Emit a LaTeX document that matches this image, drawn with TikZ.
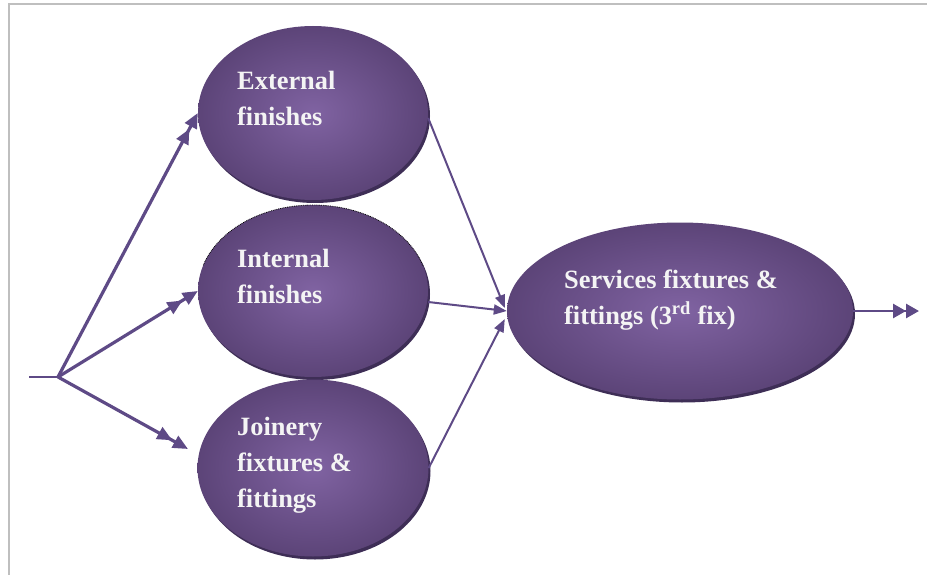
\documentclass[tikz,border=0pt]{standalone}
\usepackage{fontspec}
\setmainfont{Liberation Serif}
\usetikzlibrary{arrows.meta,shadows,shapes.geometric,calc}
\definecolor{arrcol}{HTML}{5E4A86}
\definecolor{ellin}{HTML}{8063A2}
\definecolor{ellout}{HTML}{5C4478}
\definecolor{shadcol}{HTML}{3E2E56}
\definecolor{framecol}{HTML}{BFBFBF}
\definecolor{txtcol}{HTML}{F4F4F4}
\begin{document}
\begin{tikzpicture}[x=1pt,y=-1pt,
  ell/.style={ellipse, shading=radial, inner color=ellin, outer color=ellout,
    draw=none, inner sep=0pt,
    drop shadow={shadow xshift=2pt, shadow yshift=-3pt, fill=shadcol, opacity=1}},
  lbl/.style={font=\bfseries\fontsize{26.4}{36}\selectfont, text=txtcol,
    align=left, anchor=base west, inner sep=0pt},
  plainline/.style={draw=arrcol, line width=2pt},
  leftarr/.style={draw=arrcol, line width=3.2pt,
    -{Triangle[length=15pt,width=13pt,sep=3pt]Triangle[length=15pt,width=13pt]}},
  inarr/.style={draw=arrcol, line width=2pt, -{Triangle[length=13pt,width=10pt]}},
  outarr/.style={draw=arrcol, line width=2.7pt,
    -{Triangle[length=13pt,width=14pt]Triangle[length=13pt,width=14pt]}}]
\useasboundingbox (0,0) rectangle (927,575);
\fill[white] (0,0) rectangle (927,575);
% frame
\draw[framecol, line width=1.7pt] (927,4.2) -- (8.8,4.2) -- (8.8,575);
% ellipses
\node[ell, minimum width=230, minimum height=174] (ext) at (313,113) {};
\node[ell, minimum width=230, minimum height=172] (int) at (313,291) {};
\node[ell, minimum width=231, minimum height=177] (jn) at (313,468) {};
\node[ell, minimum width=346, minimum height=177] (svc) at (680,311) {};
% dotted edge on internal finishes
\begin{scope}
\clip (185,195) rectangle (445,265);
\draw[black, densely dotted, line width=0.8pt] (int.center) ellipse [x radius=115, y radius=86];
\end{scope}
% labels (anchor = baseline of last line)
\node[lbl] (extT) at (237,126) {External\\finishes};
\node[lbl] (intT) at (237,303) {Internal\\finishes};
\node[lbl] (jnT) at (237,507) {Joinery\\fixtures \&\\fittings};
\node[lbl] (svcT) at (564,324) {Services fixtures \&\\fittings (3\textsuperscript{rd} fix)};
% connectors
\coordinate (in) at (29,377);
\coordinate (src) at (58,377);
\coordinate (jtip) at (188,449);
\coordinate (out) at (919,311);
\draw[plainline] (in) -- (src);
\draw[leftarr] (src) -- (ext.west);
\draw[leftarr] (src) -- (int.west);
\draw[leftarr] (src) -- (jtip);
\draw[inarr] ([yshift=-5pt]ext.east) -- ([yshift=3pt,xshift=-2pt]svc.west);
\draw[inarr] ([yshift=-11pt]int.east) -- (svc.west);
\draw[inarr] (jn.east) -- ([yshift=-8pt,xshift=-2pt]svc.west);
\draw[outarr] (svc.east) -- (out);
\end{tikzpicture}
\end{document}
